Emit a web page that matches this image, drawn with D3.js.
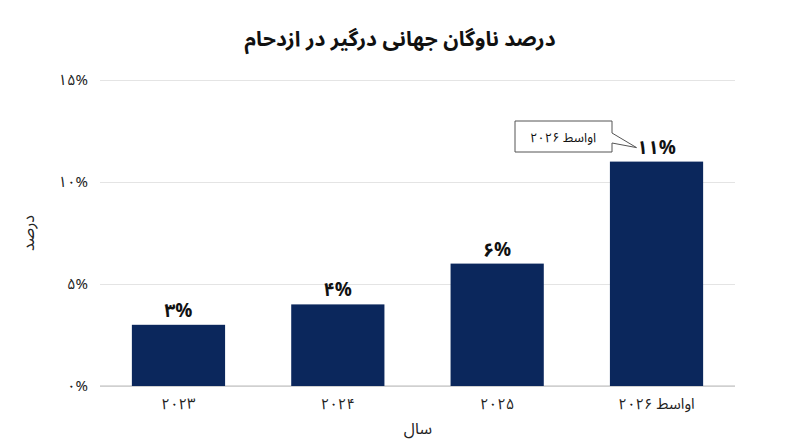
<!DOCTYPE html>
<html><head><meta charset="utf-8">
<script src="https://cdn.jsdelivr.net/npm/d3@7"></script>
<style>body{margin:0;background:#fff}text{font-family:"Noto Sans Arabic","DejaVu Sans",sans-serif}</style>
</head><body><svg id="c" width="800" height="447"></svg>
<script>
const categories = ["۲۰۲۳", "۲۰۲۴", "۲۰۲۵", "اواسط ۲۰۲۶"];
const values = [3, 4, 6, 11];
const valueLabels = ["۳%", "۴%", "۶%", "۱۱%"];
const yTicks = [0, 5, 10, 15];
const yTickLabels = ["۰%", "۵%", "۱۰%", "۱۵%"];

const svg = d3.select("#c");
const m = {l: 100, r: 65, t: 80, b: 61};
const W = 800, H = 447;
const x = d3.scaleBand().domain(categories).range([m.l, W - m.r]).paddingInner(0.415).paddingOuter(0.2);
const y = d3.scaleLinear().domain([0, 15]).range([H - m.b, m.t]);

svg.append("text").attr("x", 400).attr("y", 46).attr("text-anchor", "middle")
  .attr("font-size", 21).attr("font-weight", "bold").attr("fill", "#111")
  .text("درصد ناوگان جهانی درگیر در ازدحام");

const ya = svg.append("g").attr("transform", `translate(${m.l},0)`)
  .call(d3.axisLeft(y).tickValues(yTicks).tickFormat((d, i) => yTickLabels[i]).tickSize(-(W - m.l - m.r)));
ya.select(".domain").remove();
ya.selectAll("line").attr("stroke", "#e4e4e4");
ya.selectAll("text").attr("font-size", 15).attr("fill", "#222").attr("x", -12).attr("dx", 0);

svg.append("line").attr("x1", m.l).attr("x2", W - m.r).attr("y1", y(0)).attr("y2", y(0)).attr("stroke", "#bbb");

svg.selectAll("rect.bar").data(values).join("rect").attr("class", "bar")
  .attr("x", (d, i) => x(categories[i])).attr("width", x.bandwidth())
  .attr("y", d => y(d)).attr("height", d => y(0) - y(d)).attr("fill", "#0b275c");

svg.selectAll("text.vl").data(values).join("text").attr("class", "vl")
  .attr("x", (d, i) => x(categories[i]) + x.bandwidth() / 2).attr("y", d => y(d) - 8)
  .attr("text-anchor", "middle").attr("font-size", 19).attr("font-weight", "bold").attr("fill", "#111")
  .text((d, i) => valueLabels[i]);

const xa = svg.append("g").attr("transform", `translate(0,${y(0)})`)
  .call(d3.axisBottom(x).tickSize(0).tickPadding(12));
xa.select(".domain").remove();
xa.selectAll("text").attr("font-size", 15).attr("fill", "#222");

svg.append("text").attr("x", 418).attr("y", 434).attr("text-anchor", "middle")
  .attr("font-size", 16).attr("fill", "#222").text("سال");
svg.append("text").attr("transform", "translate(34,233) rotate(-90)").attr("text-anchor", "middle")
  .attr("font-size", 16).attr("fill", "#222").text("درصد");

// callout on last bar
const lc = categories[3];
const tx = x(lc) + x.bandwidth() / 2 - 20, ty = y(values[3]) - 14;
svg.append("path")
  .attr("d", `M515,121 H612 V133 L${tx},${ty} L612,143 V152 H515 Z`)
  .attr("fill", "#fff").attr("stroke", "#555").attr("stroke-width", 1);
svg.append("text").attr("x", 563).attr("y", 142).attr("text-anchor", "middle")
  .attr("font-size", 13).attr("fill", "#111").text("اواسط ۲۰۲۶");
</script></body></html>
